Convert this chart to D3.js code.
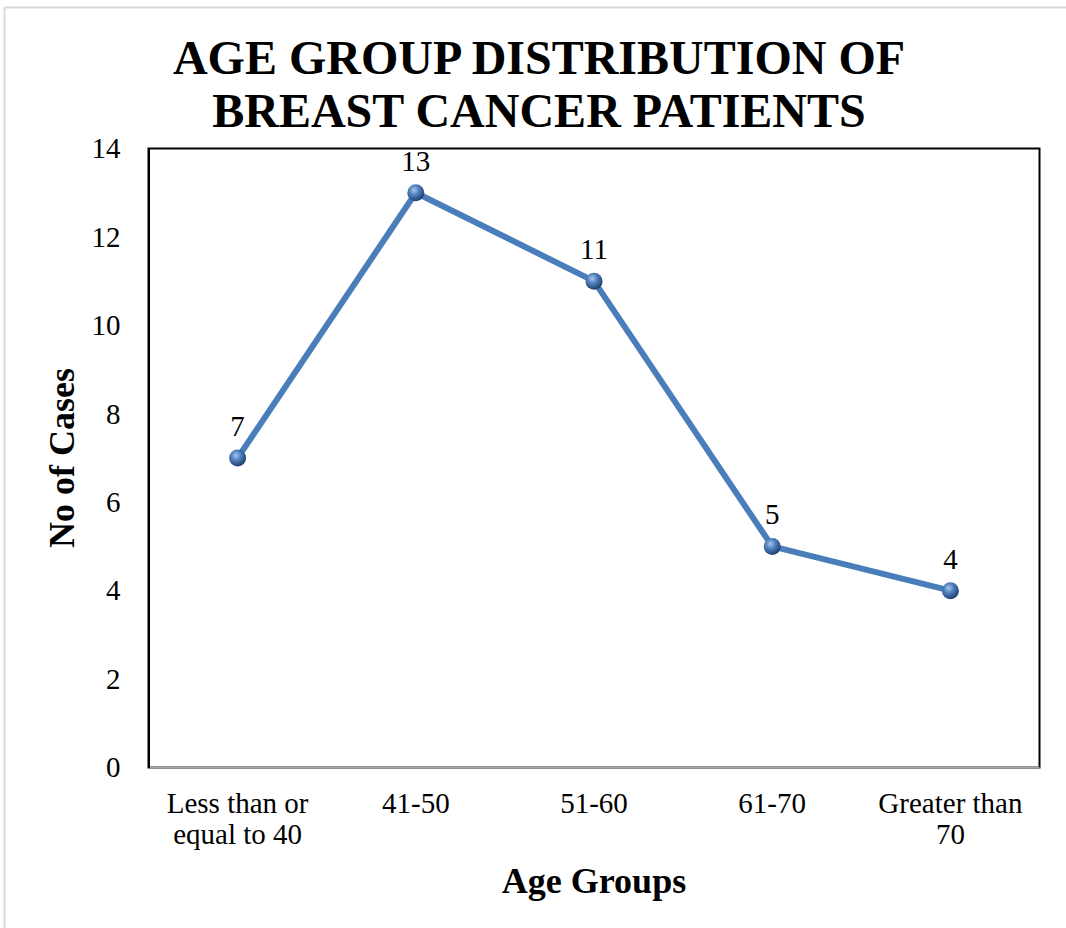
<!DOCTYPE html>
<html>
<head>
<meta charset="utf-8">
<script src="https://cdn.jsdelivr.net/npm/d3@7/dist/d3.min.js"></script>
<style>
  html, body { margin: 0; padding: 0; background: #fff; }
  svg { display: block; }
  text { font-family: "Liberation Serif", "Times New Roman", serif; fill: #000; }
</style>
</head>
<body>
<svg id="chart" width="1066" height="928"></svg>
<script>
const categories = [["Less than or", "equal to 40"], ["41-50"], ["51-60"], ["61-70"], ["Greater than", "70"]];
const values = [7, 13, 11, 5, 4];
const yTicks = [0, 2, 4, 6, 8, 10, 12, 14];
const titleLines = ["AGE GROUP DISTRIBUTION OF", "BREAST CANCER PATIENTS"];
const xTitle = "Age Groups";
const yTitle = "No of Cases";

const svg = d3.select("#chart");
const W = 1066, H = 928;
const plot = { left: 148.5, top: 148.5, right: 1039.5, bottom: 767.5 };

// outer chart border
svg.append("rect").attr("x", 4.5).attr("y", 7.5).attr("width", W + 10).attr("height", H + 10)
  .attr("fill", "#fff").attr("stroke", "#d9d9d9").attr("stroke-width", 2);

const defs = svg.append("defs");
const grad = defs.append("radialGradient").attr("id", "ball").attr("cx", "40%").attr("cy", "35%").attr("r", "65%");
grad.append("stop").attr("offset", "0%").attr("stop-color", "#a9c6ee");
grad.append("stop").attr("offset", "45%").attr("stop-color", "#4f81bd");
grad.append("stop").attr("offset", "100%").attr("stop-color", "#1f3f6e");

const x = d3.scaleBand().domain(d3.range(categories.length)).range([plot.left, plot.right]);
const y = d3.scaleLinear().domain([0, 14]).range([plot.bottom, plot.top]);

// plot area border
svg.append("rect").attr("x", plot.left).attr("y", plot.top)
  .attr("width", plot.right - plot.left).attr("height", plot.bottom - plot.top)
  .attr("fill", "none").attr("stroke", "#000").attr("stroke-width", 2);

// x axis line (gray)
svg.append("line").attr("x1", plot.left).attr("x2", plot.right)
  .attr("y1", plot.bottom).attr("y2", plot.bottom)
  .attr("stroke", "#a6a6a6").attr("stroke-width", 2);

// y axis
const yAxis = d3.axisLeft(y).tickValues(yTicks).tickSize(0).tickPadding(28);
const gy = svg.append("g").attr("transform", `translate(${plot.left},0)`).call(yAxis);
gy.select(".domain").attr("stroke", "#000").attr("stroke-width", 2);
gy.selectAll(".tick text").style("font-family", '"Liberation Serif", serif').style("font-size", "29px").attr("fill", "#000");

// x axis labels
const xAxis = d3.axisBottom(x).tickSize(0).tickFormat(() => "");
const gx = svg.append("g").attr("transform", `translate(0,${plot.bottom})`).call(xAxis);
gx.select(".domain").remove();
gx.selectAll(".tick").each(function(d) {
  const t = d3.select(this).append("text").attr("text-anchor", "middle")
    .style("font-size", "29px").attr("fill", "#000");
  categories[d].forEach((line, i) => {
    t.append("tspan").attr("x", 0).attr("y", 45 + i * 31).text(line);
  });
});

// line
const cx = i => x(i) + x.bandwidth() / 2;
const line = d3.line().x((d, i) => cx(i)).y(d => y(d));
svg.append("path").datum(values).attr("d", line)
  .attr("fill", "none").attr("stroke", "#4a7ebb").attr("stroke-width", 6)
  .attr("stroke-linejoin", "round");

// markers
svg.selectAll("circle.pt").data(values).enter().append("circle").attr("class", "pt")
  .attr("cx", (d, i) => cx(i)).attr("cy", d => y(d)).attr("r", 8.5)
  .attr("fill", "url(#ball)");

// data labels
svg.selectAll("text.lbl").data(values).enter().append("text").attr("class", "lbl")
  .attr("x", (d, i) => cx(i)).attr("y", d => y(d) - 22)
  .attr("text-anchor", "middle").style("font-size", "29px").text(d => d);

// title
const title = svg.append("text").attr("text-anchor", "middle").style("font-size", "48px").style("font-weight", "bold");
titleLines.forEach((l, i) => {
  title.append("tspan").attr("x", 539).attr("y", 74 + i * 53).text(l);
});

// axis titles
svg.append("text").attr("x", 594).attr("y", 893).attr("text-anchor", "middle")
  .style("font-size", "36px").style("font-weight", "bold").text(xTitle);
svg.append("text").attr("transform", "translate(74,458) rotate(-90)").attr("text-anchor", "middle")
  .style("font-size", "36px").style("font-weight", "bold").text(yTitle);
</script>
</body>
</html>
